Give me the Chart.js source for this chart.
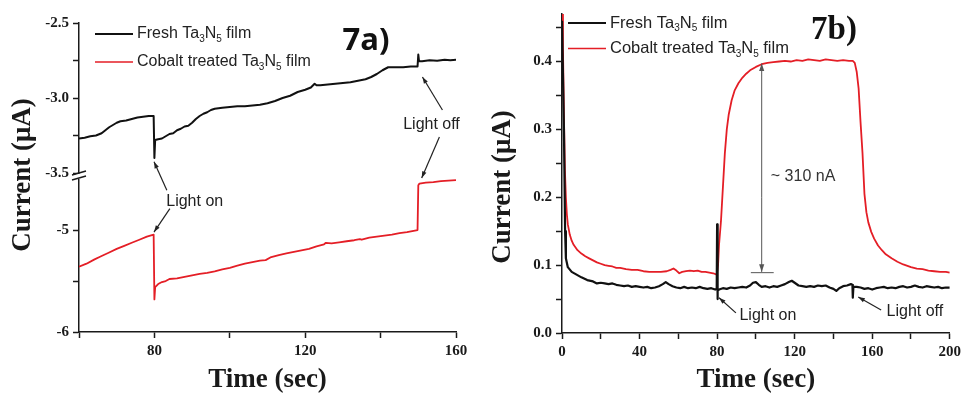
<!DOCTYPE html>
<html>
<head>
<meta charset="utf-8">
<script src="https://cdn.jsdelivr.net/npm/chart.js@4.4.1/dist/chart.umd.min.js"></script>
<style>
  html, body { margin: 0; padding: 0; background: #fff; }
  #wrap { position: relative; width: 965px; height: 394px; overflow: hidden; }
  canvas { position: absolute; top: 0; }
  #chart-a { left: 0; }
  #chart-b { left: 480px; }
</style>
</head>
<body>
<div id="wrap">
  <canvas id="chart-a" width="480" height="394"></canvas>
  <canvas id="chart-b" width="485" height="394"></canvas>
</div>
<script>
// series names ("_d" marks a subscript digit)
const seriesNames = ["Fresh Ta_3N_5 film", "Cobalt treated Ta_3N_5 film"];

// ---- panel 7a (broken y axis) ----
const timeAFresh = [60, 61.5, 63, 64.5, 66, 67, 68, 69, 70, 71, 72.5, 74, 75.5, 77, 78.5, 79.8, 80, 80.2, 81, 82, 83, 84, 85, 86, 87, 88, 89, 90, 91, 92, 93, 94, 95, 96, 98, 100, 102, 104, 106, 108, 110, 112, 114, 116, 118, 120, 121.5, 122.5, 123, 124, 126, 128, 130, 132, 134, 136, 137.5, 139, 140.5, 142, 144, 146, 148, 149.8, 150, 150.2, 151, 153, 155, 157, 158.5, 160];
const currentAFresh = [-3.27, -3.265, -3.255, -3.25, -3.235, -3.215, -3.195, -3.18, -3.165, -3.155, -3.15, -3.14, -3.13, -3.125, -3.12, -3.12, -3.40, -3.28, -3.275, -3.27, -3.255, -3.24, -3.235, -3.215, -3.205, -3.19, -3.185, -3.165, -3.14, -3.12, -3.105, -3.095, -3.08, -3.072, -3.065, -3.06, -3.055, -3.055, -3.05, -3.045, -3.035, -3.02, -3.0, -2.985, -2.96, -2.945, -2.93, -2.905, -2.915, -2.915, -2.91, -2.905, -2.9, -2.895, -2.885, -2.875, -2.86, -2.84, -2.815, -2.795, -2.795, -2.795, -2.79, -2.79, -2.71, -2.755, -2.755, -2.748, -2.752, -2.745, -2.748, -2.745];

const timeACobalt = [60, 62, 64, 66, 68, 70, 72, 74, 76, 78, 79.8, 80, 80.2, 81, 82, 83, 84, 86, 88, 90, 92, 94, 96, 98, 100, 102, 104, 106, 108, 109.5, 111, 113, 115, 117, 119, 121, 123, 125, 125.5, 127, 129, 131, 133, 134.5, 135, 137, 139, 141, 143, 145, 147, 149.8, 150, 150.3, 152, 154, 156, 158, 160];
const currentACobalt = [-5.36, -5.33, -5.29, -5.255, -5.22, -5.185, -5.155, -5.125, -5.095, -5.065, -5.045, -5.68, -5.56, -5.53, -5.51, -5.5, -5.48, -5.475, -5.46, -5.445, -5.43, -5.42, -5.405, -5.385, -5.37, -5.35, -5.33, -5.315, -5.3, -5.295, -5.265, -5.245, -5.23, -5.215, -5.2, -5.185, -5.16, -5.14, -5.125, -5.13, -5.12, -5.11, -5.1, -5.09, -5.095, -5.075, -5.065, -5.055, -5.045, -5.03, -5.02, -5.0, -4.56, -4.545, -4.535, -4.53, -4.52, -4.515, -4.51];

const xTicksA = [60, 80, 100, 120, 140, 160];
const xLabelsA = [80, 120, 160];
const yTicksATop = [-3.5, -3.25, -3.0, -2.75, -2.5];
const yLabelsATop = [-3.5, -3.0, -2.5];
const yTicksABottom = [-6, -5.5, -5];
const yLabelsABottom = [-6, -5];

// ---- panel 7b ----
const timeBFresh = [0, 1, 1.6, 2, 3, 5, 7.5, 10, 13, 16, 18, 20, 22, 24, 26, 28, 30, 32, 34, 36, 38, 40, 42, 44, 46, 48, 50, 52, 53.5, 55, 57, 59, 61, 63, 65, 67, 69, 71, 73, 75, 77, 79, 79.8, 80, 80.15, 80.4, 81, 83, 85, 87, 89, 91, 93, 95, 97, 98.5, 100, 101.5, 103, 105, 107, 109, 111, 113, 115, 117, 118.5, 120, 122, 124, 126, 128, 130, 132, 134, 136, 138, 140, 141.5, 143, 145, 147, 149, 149.8, 150, 150.3, 152, 154, 156, 158, 160, 162, 164, 166, 168, 170, 172, 174, 176, 178, 180, 182, 184, 186, 188, 190, 192, 194, 196, 198, 200];
const currentBFresh = [0.46, 0.3, 0.15, 0.11, 0.097, 0.09, 0.086, 0.082, 0.078, 0.076, 0.073, 0.074, 0.073, 0.072, 0.073, 0.071, 0.07, 0.069, 0.07, 0.068, 0.069, 0.068, 0.067, 0.068, 0.066, 0.067, 0.069, 0.072, 0.075, 0.072, 0.069, 0.067, 0.066, 0.068, 0.066, 0.067, 0.066, 0.068, 0.066, 0.065, 0.066, 0.064, 0.065, 0.16, 0.05, 0.062, 0.064, 0.066, 0.065, 0.067, 0.066, 0.067, 0.068, 0.067, 0.07, 0.074, 0.075, 0.071, 0.068, 0.069, 0.067, 0.069, 0.068, 0.07, 0.072, 0.075, 0.077, 0.074, 0.07, 0.069, 0.068, 0.069, 0.068, 0.07, 0.069, 0.07, 0.067, 0.065, 0.062, 0.066, 0.069, 0.07, 0.072, 0.071, 0.052, 0.068, 0.068, 0.067, 0.065, 0.066, 0.064, 0.066, 0.067, 0.068, 0.066, 0.067, 0.066, 0.068, 0.069, 0.067, 0.068, 0.07, 0.068, 0.067, 0.069, 0.068, 0.067, 0.068, 0.066, 0.067, 0.067];

const timeBCobalt = [0, 0.5, 1, 1.5, 2, 2.5, 3, 4, 5, 6, 7, 8, 10, 12, 14, 16, 18, 20, 22, 24, 26, 28, 30, 33, 36, 39, 42, 45, 48, 51, 54, 56, 57.5, 59, 60.5, 62, 64, 66, 68, 70, 72, 74, 76, 78, 79.8, 80.5, 81, 82, 83, 84, 85, 86, 87.5, 89, 91, 93, 95, 97, 100, 103, 106, 109, 112, 115, 118, 121, 124, 127, 130, 133, 136, 139, 142, 145, 148, 150, 151, 152, 153, 154, 155, 156, 157, 158, 159.5, 161, 163, 165, 167, 170, 173, 176, 180, 183, 186, 189, 192, 195, 198, 200];
const currentBCobalt = [0.47, 0.42, 0.32, 0.24, 0.2, 0.175, 0.16, 0.145, 0.136, 0.13, 0.126, 0.122, 0.117, 0.113, 0.11, 0.107, 0.104, 0.102, 0.1, 0.099, 0.098, 0.096, 0.096, 0.094, 0.093, 0.093, 0.091, 0.09, 0.09, 0.09, 0.091, 0.093, 0.095, 0.092, 0.088, 0.09, 0.091, 0.092, 0.091, 0.092, 0.09, 0.09, 0.089, 0.088, 0.086, 0.1, 0.13, 0.165, 0.215, 0.265, 0.3, 0.322, 0.343, 0.357, 0.368, 0.376, 0.382, 0.387, 0.392, 0.396, 0.398, 0.399, 0.4, 0.401, 0.4, 0.402, 0.401, 0.403, 0.402, 0.401, 0.403, 0.402, 0.401, 0.402, 0.401, 0.401, 0.398, 0.385, 0.36, 0.31, 0.265, 0.205, 0.178, 0.163, 0.149, 0.139, 0.129, 0.122, 0.116, 0.11, 0.105, 0.101, 0.097, 0.095, 0.094, 0.092, 0.091, 0.09, 0.09, 0.089];

const xTicksB = [0, 20, 40, 60, 80, 100, 120, 140, 160, 180, 200];
const xLabelsB = [0, 40, 80, 120, 160, 200];
const yTicksB = [0, 0.05, 0.1, 0.15, 0.2, 0.25, 0.3, 0.35, 0.4, 0.45];
const yLabelsB = [0, 0.1, 0.2, 0.3, 0.4];

const INK = "#1a1a1a";
const BLACK = "#111111";
const RED = "#e41e26";
const SERIF = '"Liberation Serif", "Times New Roman", serif';
const SANS = '"Liberation Sans", Arial, sans-serif';

function points(xs, ys) {
  return xs.map((x, i) => ({ x, y: ys[i] }));
}

function axis(ticks, labels, format, extra) {
  return Object.assign({
    type: "linear",
    afterBuildTicks: (scale) => { scale.ticks = ticks.map((value) => ({ value })); },
    ticks: {
      autoSkip: false,
      maxRotation: 0,
      color: INK,
      padding: 4,
      font: { family: SERIF, size: 15, weight: "bold" },
      callback: (value) => (labels.includes(value) ? format(value) : "")
    },
    grid: { drawOnChartArea: false, drawTicks: true, tickLength: 6, tickColor: INK, tickWidth: 1.5 },
    border: { display: true, color: INK, width: 1.5 }
  }, extra);
}

function timeTitle() {
  return {
    display: true,
    text: "Time (sec)",
    color: INK,
    padding: { top: 0, bottom: 0 },
    font: { family: SERIF, size: 27, weight: "bold", lineHeight: 1 }
  };
}

function lineSet(label, data, color, width, yAxisID) {
  return {
    label, data, yAxisID,
    borderColor: color,
    borderWidth: width,
    pointRadius: 0,
    tension: 0,
    fill: false,
    borderJoinStyle: "round"
  };
}

function drawRich(ctx, x, y, text, size, color) {
  ctx.save();
  ctx.fillStyle = color;
  ctx.textBaseline = "middle";
  ctx.textAlign = "left";
  let cx = x;
  text.split(/(_\d)/).forEach((part) => {
    if (!part) return;
    if (part[0] === "_") {
      ctx.font = `${Math.round(size * 0.62)}px ${SANS}`;
      ctx.fillText(part.slice(1), cx, y + size * 0.32);
      cx += ctx.measureText(part.slice(1)).width;
    } else {
      ctx.font = `${size}px ${SANS}`;
      ctx.fillText(part, cx, y);
      cx += ctx.measureText(part).width;
    }
  });
  ctx.restore();
}

function arrow(ctx, from, to, color, width, head) {
  ctx.save();
  ctx.strokeStyle = color;
  ctx.fillStyle = color;
  ctx.lineWidth = width;
  ctx.beginPath();
  ctx.moveTo(from[0], from[1]);
  ctx.lineTo(to[0], to[1]);
  ctx.stroke();
  const a = Math.atan2(to[1] - from[1], to[0] - from[0]);
  ctx.beginPath();
  ctx.moveTo(to[0], to[1]);
  ctx.lineTo(to[0] - head * Math.cos(a - 0.33), to[1] - head * Math.sin(a - 0.33));
  ctx.lineTo(to[0] - head * Math.cos(a + 0.33), to[1] - head * Math.sin(a + 0.33));
  ctx.closePath();
  ctx.fill();
  ctx.restore();
}

function label(ctx, text, x, y, font, color, align) {
  ctx.save();
  ctx.font = font;
  ctx.fillStyle = color;
  ctx.textAlign = align || "center";
  ctx.textBaseline = "middle";
  ctx.fillText(text, x, y);
  ctx.restore();
}

function yTitle(ctx, x, y) {
  ctx.save();
  ctx.translate(x, y);
  ctx.rotate(-Math.PI / 2);
  ctx.font = `bold 27px ${SERIF}`;
  ctx.fillStyle = INK;
  ctx.textAlign = "center";
  ctx.textBaseline = "middle";
  ctx.fillText("Current (\u03bcA)", 0, 0);
  ctx.restore();
}

function legend(ctx, chart, x0, y0, gap, size) {
  chart.data.datasets.forEach((ds, i) => {
    const y = y0 + i * gap;
    ctx.save();
    ctx.strokeStyle = ds.borderColor;
    ctx.lineWidth = i === 0 ? 2 : 1.4;
    ctx.beginPath();
    ctx.moveTo(x0, y);
    ctx.lineTo(x0 + 38, y);
    ctx.stroke();
    ctx.restore();
    drawRich(ctx, x0 + 42, y, ds.label, size, "#222");
  });
}

// ---------- chart 7a ----------
const decorA = {
  id: "decorA",
  afterDraw(chart) {
    const { ctx, chartArea, scales } = chart;
    const P = (x, y, id) => [scales.x.getPixelForValue(x), scales[id].getPixelForValue(y)];

    // axis break marks
    const yb = scales.yTop.bottom;
    const xl = chartArea.left;
    ctx.save();
    ctx.fillStyle = "#fff";
    ctx.fillRect(xl - 3, yb - 2, 6, 5);
    ctx.strokeStyle = INK;
    ctx.lineWidth = 1.4;
    ctx.beginPath();
    ctx.moveTo(xl - 7, yb - 1); ctx.lineTo(xl + 7, yb - 5);
    ctx.moveTo(xl - 7, yb + 4); ctx.lineTo(xl + 7, yb);
    ctx.stroke();
    ctx.restore();

    yTitle(ctx, 23, 175);
    legend(ctx, chart, chartArea.left + 16, chartArea.top + 11, 28, 16);
    label(ctx, "7a)", chartArea.left + 287, chartArea.top + 18, `bold 31px "Open Sans", ${SANS}`, "#111");

    const txt = `16px ${SANS}`;
    label(ctx, "Light on", ...P(90.7, -4.72, "yBottom"), txt, "#222");
    arrow(ctx, P(83.3, -4.61, "yBottom"), P(79.9, -3.425, "yTop"), "#222", 1.2, 7);
    arrow(ctx, P(84.1, -4.79, "yBottom"), P(79.9, -5.02, "yBottom"), "#222", 1.2, 7);
    label(ctx, "Light off", ...P(153.5, -3.18, "yTop"), txt, "#222");
    arrow(ctx, P(156.4, -3.08, "yTop"), P(151.1, -2.86, "yTop"), "#222", 1.2, 7);
    arrow(ctx, P(155.6, -3.26, "yTop"), P(150.9, -4.49, "yBottom"), "#222", 1.2, 7);
  }
};

new Chart(document.getElementById("chart-a"), {
  type: "line",
  data: {
    datasets: [
      lineSet(seriesNames[0], points(timeAFresh, currentAFresh), BLACK, 2, "yTop"),
      lineSet(seriesNames[1], points(timeACobalt, currentACobalt), RED, 1.8, "yBottom")
    ]
  },
  options: {
    responsive: false,
    animation: false,
    devicePixelRatio: 1,
    layout: { padding: { top: 23, right: 24, left: 0, bottom: 0 } },
    plugins: { legend: { display: false }, tooltip: { enabled: false } },
    scales: {
      x: axis(xTicksA, xLabelsA, (v) => String(v), {
        min: 60, max: 160, position: "bottom",
        title: timeTitle(),
        afterFit: (s) => { s.height = 62; }
      }),
      // left boxes are stacked in reverse order, so the lower segment is listed first
      yBottom: axis(yTicksABottom, yLabelsABottom, (v) => String(v), {
        min: -6, max: -4.47, position: "left", stack: "a", stackWeight: 156,
        afterFit: (s) => { s.width = 79; }
      }),
      yTop: axis(yTicksATop, yLabelsATop, (v) => v.toFixed(1), {
        min: -3.52, max: -2.5, position: "left", stack: "a", stackWeight: 153,
        afterFit: (s) => { s.width = 79; }
      })
    }
  },
  plugins: [decorA]
});

// ---------- chart 7b ----------
const decorB = {
  id: "decorB",
  afterDraw(chart) {
    const { ctx, chartArea, scales } = chart;
    const P = (x, y) => [scales.x.getPixelForValue(x), scales.y.getPixelForValue(y)];

    yTitle(ctx, 23, 187);
    legend(ctx, chart, chartArea.left + 6, chartArea.top + 9, 25.5, 16.5);
    label(ctx, "7b)", chartArea.left + 272, chartArea.top + 16, `bold 33px ${SERIF}`, "#111");

    // ~310 nA span
    const gray = "#555";
    arrow(ctx, P(103, 0.2), P(103, 0.397), gray, 1, 8);
    arrow(ctx, P(103, 0.2), P(103, 0.09), gray, 1, 8);
    ctx.save();
    ctx.strokeStyle = gray;
    ctx.lineWidth = 1;
    const a = P(97.4, 0.0889), b = P(109.2, 0.0889);
    ctx.beginPath(); ctx.moveTo(a[0], a[1]); ctx.lineTo(b[0], b[1]); ctx.stroke();
    ctx.restore();
    label(ctx, "~ 310 nA", ...P(107.7, 0.231), `16px ${SANS}`, "#333", "left");

    const txt = `16px ${SANS}`;
    label(ctx, "Light on", ...P(106.2, 0.025), txt, "#222");
    arrow(ctx, P(89.7, 0.0296), P(81, 0.052), "#222", 1.2, 7);
    label(ctx, "Light off", ...P(182, 0.031), txt, "#222");
    arrow(ctx, P(164.6, 0.034), P(152.8, 0.053), "#222", 1.2, 7);
  }
};

new Chart(document.getElementById("chart-b"), {
  type: "line",
  data: {
    datasets: [
      lineSet(seriesNames[0], points(timeBFresh, currentBFresh), BLACK, 2.2, "y"),
      lineSet(seriesNames[1], points(timeBCobalt, currentBCobalt), RED, 1.8, "y")
    ]
  },
  options: {
    responsive: false,
    animation: false,
    devicePixelRatio: 1,
    layout: { padding: { top: 14, right: 13, left: 0, bottom: 0 } },
    plugins: { legend: { display: false }, tooltip: { enabled: false } },
    scales: {
      x: axis(xTicksB, xLabelsB, (v) => String(v), {
        min: 0, max: 200, position: "bottom",
        title: timeTitle(),
        afterFit: (s) => { s.height = 61; }
      }),
      y: axis(yTicksB, yLabelsB, (v) => v.toFixed(1), {
        min: 0, max: 0.47, position: "left",
        afterFit: (s) => { s.width = 82; }
      })
    }
  },
  plugins: [decorB]
});
</script>
</body>
</html>
